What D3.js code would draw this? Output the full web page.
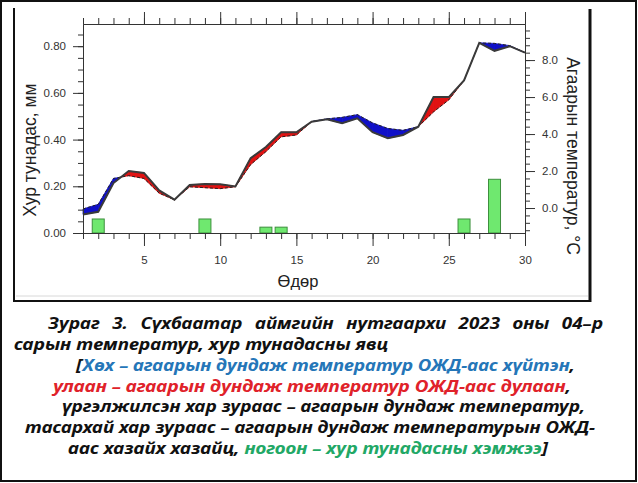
<!DOCTYPE html>
<html>
<head>
<meta charset="utf-8">
<script src="https://cdn.jsdelivr.net/npm/d3@7"></script>
<style>
  html, body { margin: 0; padding: 0; background: #fff; }
  svg { display: block; }
  text { font-family: "Liberation Sans", Arial, sans-serif; }
</style>
</head>
<body>
<svg id="chart" width="638" height="483"></svg>
<script>
// ---- data ----
const days = d3.range(1, 31);
// mean daily air temperature, °C
const temp = [-0.35, -0.2, 1.35, 2.0, 1.9, 0.95, 0.45, 1.25, 1.3, 1.28,
              1.17, 2.7, 3.3, 4.1, 4.1, 4.67, 4.8, 4.58, 4.85, 4.1,
              3.77, 3.95, 4.4, 6.0, 6.0, 6.9, 8.93, 8.5, 8.75, 8.4];
// long-term mean (normal) temperature, °C
const norm = [-0.05, 0.2, 1.6, 1.75, 1.6, 0.8, 0.45, 1.15, 1.1, 1.05,
              1.15, 2.35, 3.05, 3.85, 3.95, 4.67, 4.82, 4.9, 5.05, 4.6,
              4.3, 4.2, 4.4, 5.2, 5.85, 6.9, 8.93, 8.9, 8.78, 8.4];
// precipitation, mm
const precip = [0, 0.06, 0, 0, 0, 0, 0, 0, 0.06, 0,
                0, 0, 0.025, 0.025, 0, 0, 0, 0, 0, 0,
                0, 0, 0, 0, 0, 0.06, 0, 0.23, 0, 0];
const xTicks = [5, 10, 15, 20, 25, 30];
const precipTicks = [0, 0.2, 0.4, 0.6, 0.8];
const tempTicks = [0, 2, 4, 6, 8];
const xTitle = "Өдөр";
const leftTitle = "Хур тунадас, мм";
const rightTitle = "Агаарын температур, °С";

const svg = d3.select("#chart");

// frames
svg.append("rect").attr("x", 1).attr("y", 1).attr("width", 635).attr("height", 480)
  .attr("fill", "none").attr("stroke", "#111").attr("stroke-width", 2);
svg.append("line").attr("x1", 14).attr("x2", 14).attr("y1", 8).attr("y2", 301)
  .attr("stroke", "#111").attr("stroke-width", 2);
svg.append("line").attr("x1", 590).attr("x2", 590).attr("y1", 9).attr("y2", 302)
  .attr("stroke", "#111").attr("stroke-width", 3);
svg.append("line").attr("x1", 13).attr("x2", 591).attr("y1", 301).attr("y2", 301)
  .attr("stroke", "#111").attr("stroke-width", 2);
svg.append("line").attr("x1", 16).attr("x2", 588).attr("y1", 296).attr("y2", 296)
  .attr("stroke", "#d8d8d8").attr("stroke-width", 1);

// scales
const L = 83, R = 525, T = 24, B = 233;
const x = d3.scaleLinear().domain([1, 30]).range([L, R]);
const yP = d3.scaleLinear().domain([0, 0.895]).range([B, T]);
const yT = d3.scaleLinear().domain([-1.35, 9.95]).range([B, T]);

const axisColor = "#333";

// precipitation bars
const bw = 12;
svg.append("g").selectAll("rect").data(days.filter((d, i) => precip[i] > 0)).join("rect")
  .attr("x", d => x(d) - bw / 2)
  .attr("y", d => yP(precip[d - 1]))
  .attr("width", bw)
  .attr("height", d => B - yP(precip[d - 1]))
  .attr("fill", "#6fe86f").attr("stroke", "#3d8f3d").attr("stroke-width", 1);

// fill between temp and normal
const polys = [];
for (let i = 0; i < days.length - 1; i++) {
  const d0 = temp[i] - norm[i], d1 = temp[i + 1] - norm[i + 1];
  const a = days[i], b = days[i + 1];
  if (d0 * d1 >= 0) {
    if (d0 === 0 && d1 === 0) continue;
    polys.push({ pts: [[a, temp[i]], [b, temp[i + 1]], [b, norm[i + 1]], [a, norm[i]]], warm: (d0 + d1) > 0 });
  } else {
    const f = d0 / (d0 - d1);
    const xc = a + f * (b - a);
    const tc = temp[i] + f * (temp[i + 1] - temp[i]);
    polys.push({ pts: [[a, temp[i]], [xc, tc], [a, norm[i]]], warm: d0 > 0 });
    polys.push({ pts: [[xc, tc], [b, temp[i + 1]], [b, norm[i + 1]]], warm: d1 > 0 });
  }
}
svg.append("g").selectAll("polygon").data(polys).join("polygon")
  .attr("points", p => p.pts.map(q => [x(q[0]), yT(q[1])].join(",")).join(" "))
  .attr("fill", p => p.warm ? "#e01212" : "#1010c8")
  .attr("stroke", p => p.warm ? "#e01212" : "#1010c8")
  .attr("stroke-width", 0.8);

// normal (dashed) and temperature (solid) lines
svg.append("path").datum(days)
  .attr("d", d3.line().x(d => x(d)).y(d => yT(norm[d - 1])))
  .attr("fill", "none").attr("stroke", "#222").attr("stroke-width", 1)
  .attr("stroke-dasharray", "3,2");
svg.append("path").datum(days)
  .attr("d", d3.line().x(d => x(d)).y(d => yT(temp[d - 1])))
  .attr("fill", "none").attr("stroke", "#3a3a3a").attr("stroke-width", 2);

// axes
function styleAxis(g) {
  g.selectAll("path").attr("stroke", axisColor);
  g.selectAll("line").attr("stroke", axisColor);
  g.selectAll("text").attr("fill", "#333").style("font-size", "11.5px");
}
const dayTicks = d3.range(1, 31);
svg.append("g").attr("transform", `translate(0,${B})`)
  .call(d3.axisBottom(x).tickValues(dayTicks).tickSize(6).tickFormat("").tickSizeOuter(0)).call(styleAxis);
svg.append("g").attr("transform", `translate(0,${B})`)
  .call(d3.axisBottom(x).tickValues(xTicks).tickSize(13).tickPadding(10).tickFormat(d3.format("d")).tickSizeOuter(0))
  .call(styleAxis);
svg.append("g").attr("transform", `translate(0,${T})`)
  .call(d3.axisTop(x).tickValues(dayTicks).tickSize(6).tickFormat("").tickSizeOuter(0)).call(styleAxis);
svg.append("g").attr("transform", `translate(0,${T})`)
  .call(d3.axisTop(x).tickValues(xTicks).tickSize(12).tickFormat("").tickSizeOuter(0)).call(styleAxis);
svg.append("g").attr("transform", `translate(${L},0)`)
  .call(d3.axisLeft(yP).tickValues(d3.range(0, 0.86, 0.05)).tickSize(5).tickFormat("").tickSizeOuter(0)).call(styleAxis);
svg.append("g").attr("transform", `translate(${L},0)`)
  .call(d3.axisLeft(yP).tickValues(precipTicks).tickSize(10).tickPadding(7).tickFormat(d3.format(".2f")).tickSizeOuter(0))
  .call(styleAxis);
svg.append("g").attr("transform", `translate(${R},0)`)
  .call(d3.axisRight(yT).tickValues(d3.range(-1.2, 9.8, 0.4)).tickSize(5).tickFormat("").tickSizeOuter(0)).call(styleAxis);
svg.append("g").attr("transform", `translate(${R},0)`)
  .call(d3.axisRight(yT).tickValues(tempTicks).tickSize(10).tickPadding(7).tickFormat(d3.format(".1f")).tickSizeOuter(0))
  .call(styleAxis);

// axis titles
svg.append("text").attr("x", 298).attr("y", 287).attr("text-anchor", "middle")
  .attr("fill", "#222").style("font-size", "16.5px").text(xTitle);
svg.append("text").attr("transform", "translate(36,150) rotate(-90)").attr("text-anchor", "middle")
  .attr("fill", "#222").style("font-size", "17.5px").text(leftTitle);
svg.append("text").attr("transform", "translate(567,156) rotate(90)").attr("text-anchor", "middle")
  .attr("fill", "#222").style("font-size", "17.5px").text(rightTitle);

// caption
const cap = [
  { x: 48, y: 329, w: 555, justify: true, parts: [["Зураг 3. Сүхбаатар аймгийн нутгаархи 2023 оны 04–р", "#111"]] },
  { x: 14, y: 350, w: 374, parts: [["сарын температур, хур тунадасны явц", "#111"]] },
  { x: 76, y: 371, w: 499, parts: [["[", "#111"], ["Хөх – агаарын дундаж температур ОЖД-аас хүйтэн", "#2576b8"], [",", "#111"]] },
  { x: 53, y: 392, w: 518, parts: [["улаан – агаарын дундаж температур ОЖД-аас дулаан", "#e0222a"], [",", "#111"]] },
  { x: 62, y: 412, w: 523, parts: [["үргэлжилсэн хар зураас – агаарын дундаж температур,", "#111"]] },
  { x: 25, y: 433, w: 570, parts: [["тасархай хар зураас – агаарын дундаж температурын ОЖД-", "#111"]] },
  { x: 68, y: 454, w: 480, parts: [["аас хазайх хазайц, ", "#111"], ["ногоон – хур тунадасны хэмжээ", "#22a866"], ["]", "#111"]] }
];
const capG = svg.append("g");
const nodes = cap.map(c => {
  const t = capG.append("text").attr("x", c.x).attr("y", c.y)
    .style("font-family", "'Noto Sans', 'Liberation Sans', Arial, sans-serif")
    .style("font-size", "16px").style("font-weight", "bold").style("font-style", "italic");
  c.parts.forEach(p => t.append("tspan").attr("fill", p[1]).text(p[0]));
  return t;
});
// average horizontal stretch of the normal lines
const ratios = cap.map((c, i) => c.w / nodes[i].node().getComputedTextLength());
const normal = ratios.filter((r, i) => !cap[i].justify);
const sAvg = d3.mean(normal);
cap.forEach((c, i) => {
  const t = nodes[i];
  if (c.justify) {
    const n = t.node().getComputedTextLength();
    const k = c.parts.map(p => p[0]).join("").split(" ").length - 1;
    const ws = Math.max(0, (c.w / sAvg - n) / k);
    t.style("word-spacing", ws + "px");
  }
  t.attr("textLength", c.w).attr("lengthAdjust", "spacingAndGlyphs");
});
</script>
</body>
</html>
